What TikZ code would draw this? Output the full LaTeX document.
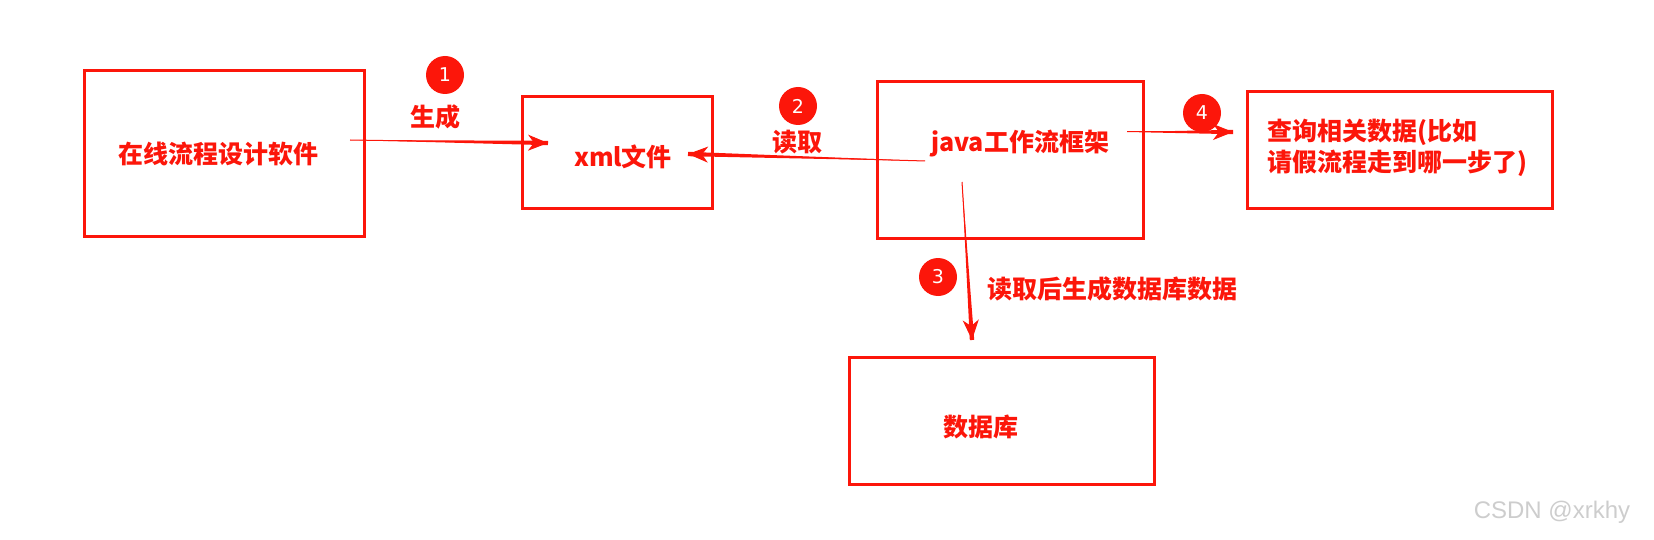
\documentclass[tikz,border=0pt]{standalone}
\usepackage{fontspec}
\newfontfamily\cjk{Noto Sans CJK SC}
\newfontfamily\wmfont{Liberation Sans}
\newfontfamily\numfont{DejaVu Sans}
\usetikzlibrary{arrows.meta,calc}
\definecolor{mainred}{RGB}{252,22,10}
\definecolor{wmgray}{RGB}{205,205,205}
\tikzset{
  box/.style={draw=mainred, line width=3pt, rectangle, inner sep=0pt, outer sep=0pt},
  txt/.style={text=mainred, font=\cjk\bfseries\fontsize{25}{31}\selectfont, inner sep=0pt},
  badge/.style={circle, fill=mainred, minimum size=38pt, inner sep=0pt, text=white, font=\numfont\fontsize{19}{19}\selectfont},
  conn/.style={draw=mainred, line width=1pt, -{Stealth[length=20pt,width=16pt,inset=6pt]}}
}
\newcommand\taperarrow[2]{%
  \fill[mainred] (#1) -- ($(#2)!2.2pt!90:(#1)$) -- ($(#2)!2.2pt!-90:(#1)$) -- cycle;
  \draw[conn] (#1) -- (#2);
}
\begin{document}
\begin{tikzpicture}[x=1pt,y=-1pt]
\useasboundingbox (0,0) rectangle (1654,540);
% boxes
\node[box, minimum width=280pt, minimum height=165pt] (b1) at (224,153.5) {};
\node[box, minimum width=190pt, minimum height=112pt] (b2) at (617,153) {};
\node[box, minimum width=266pt, minimum height=156pt] (b3) at (1010,160) {};
\node[box, minimum width=305pt, minimum height=117pt] (b4) at (1399.5,150.5) {};
\node[box, minimum width=305pt, minimum height=127pt] (b5) at (1001.5,420.5) {};
% texts
\node[txt] (t1) at (218,154) {在线流程设计软件};
\node[txt] (t2) at (623,157) {xml文件};
\node[txt] (t3) at (1020,144) {java工作流框架};
\node[txt, anchor=west, align=left] (t4) at (1267,147.5) {查询相关数据(比如\\请假流程走到哪一步了)};
\node[txt] (t5) at (981,427) {数据库};
% labels
\node[txt] (l1) at (435,117) {生成};
\node[txt] (l2) at (797,142) {读取};
\node[txt] (l3) at (1112,289) {读取后生成数据库数据};
% badges
\node[badge] (c1) at (445,75) {1};
\node[badge] (c2) at (798,106) {2};
\node[badge] (c3) at (938,277) {3};
\node[badge] (c4) at (1202,113) {4};
% connector ends
\coordinate (a1s) at (350,140);
\coordinate (a1e) at (548,143);
\coordinate (a2s) at (925,161);
\coordinate (a2e) at (688,154);
\coordinate (a3s) at (962,182);
\coordinate (a3e) at (972,340);
\coordinate (a4s) at (1127,132);
\coordinate (a4e) at (1233,132);
\taperarrow{a1s}{a1e}
\taperarrow{a2s}{a2e}
\taperarrow{a3s}{a3e}
\taperarrow{a4s}{a4e}
% watermark
\node[text=wmgray, font=\wmfont\fontsize{24}{24}\selectfont, inner sep=0pt] (wm) at (1552,512) {CSDN @xrkhy};
\end{tikzpicture}
\end{document}
